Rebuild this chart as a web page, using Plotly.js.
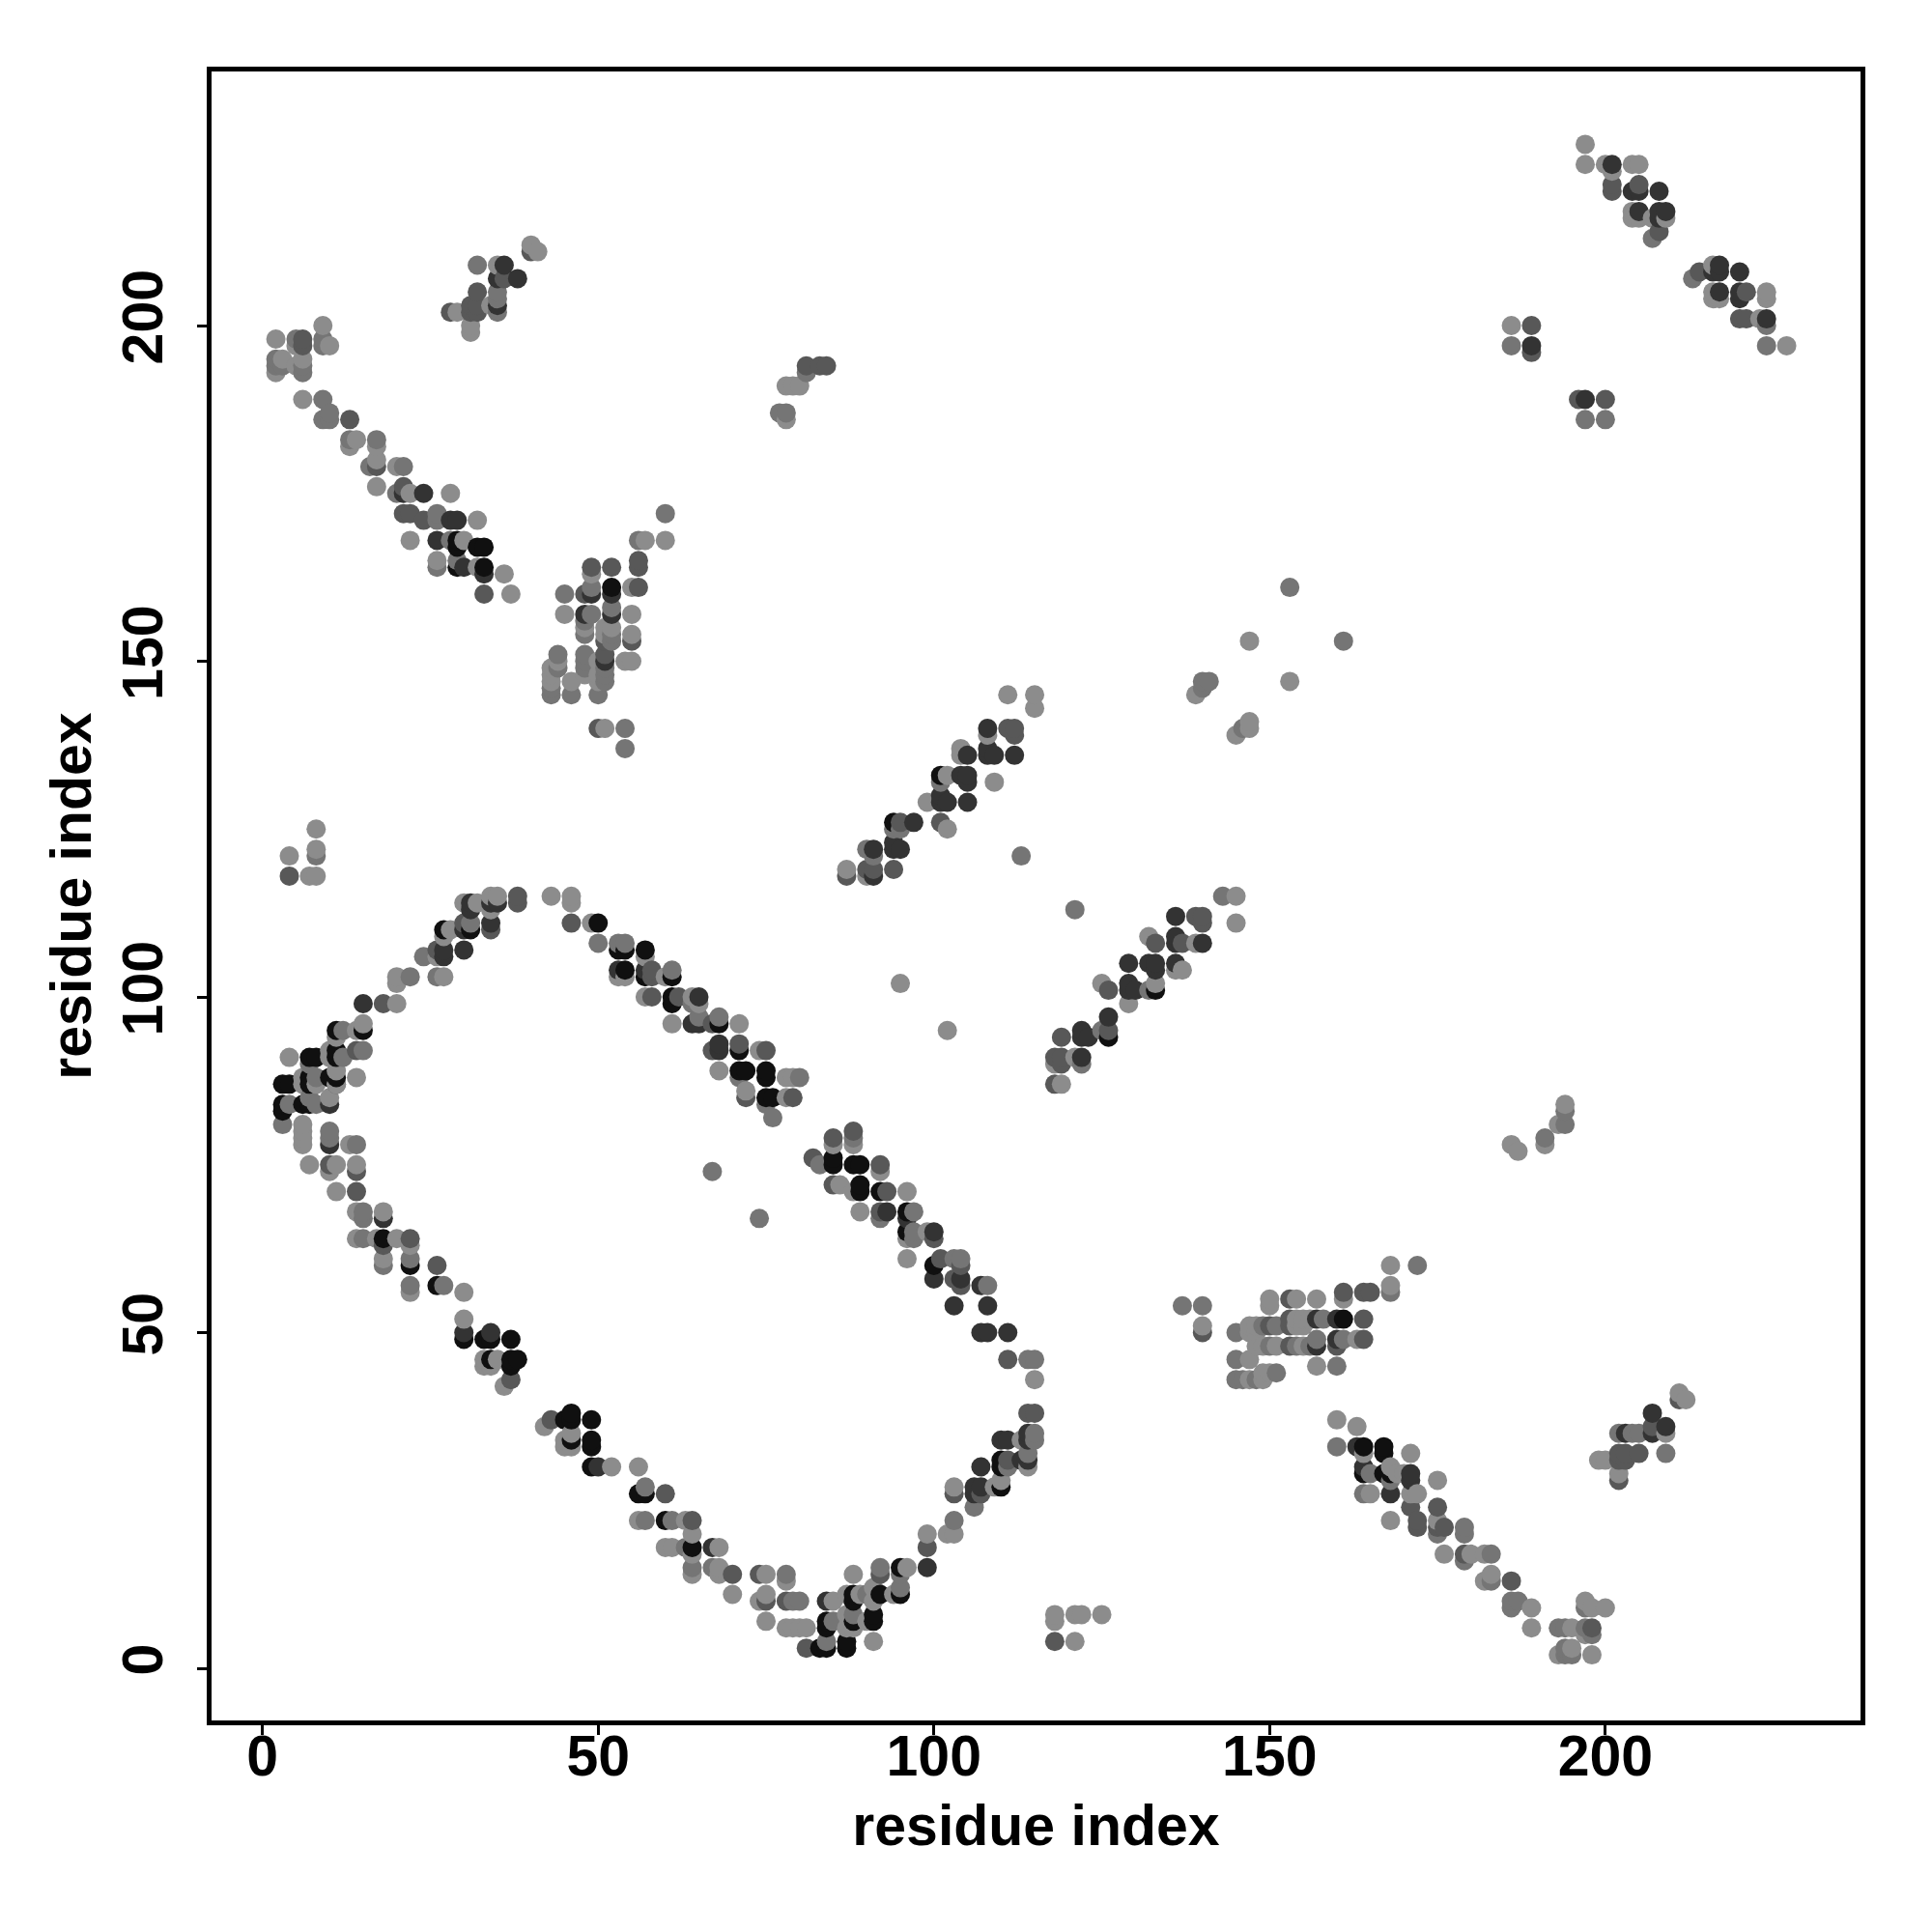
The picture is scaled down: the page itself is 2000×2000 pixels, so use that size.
<!DOCTYPE html>
<html>
<head>
<meta charset="utf-8">
<script src="https://cdn.plot.ly/plotly-3.0.1.min.js"></script>
<style>html,body{margin:0;padding:0;background:#fff}</style>
</head>
<body>
<div id="chart" style="width:2000px;height:2000px"></div>
<script>
const tickValues = [0, 50, 100, 150, 200];
const axisLabel = "residue index";

// contacts as [residue x, residue y], by gray level
const contactsBlack = [
[50,111],[54,107],[54,104],[31,110],[27,110],[15,95],[11,95],[11,92],[11,91],[7,91],[8,91],[11,88],[10,88],[7,88],[3,87],[4,87],[7,87],[7,84],[6,84],[3,84],[3,83],
[18,64],[22,60],[26,57],[30,49],[33,49],[34,49],[37,49],[34,46],[37,46],[37,45],[38,46],[46,38],[45,37],[46,37],[49,37],[46,34],[49,34],[49,33],[49,30],[56,26],
[57,26],[60,22],[64,18],[83,3],[84,3],[87,4],[87,3],[84,7],[84,6],[88,7],[88,11],[88,10],[92,11],[95,11],[91,8],[91,7],[95,15],[110,27],[110,31],[110,30],
[53,107],[57,107],[57,103],[61,103],[61,100],[61,99],[68,96],[71,92],[71,89],[72,89],[75,89],[75,88],[75,85],[76,85],[85,76],[85,75],[88,75],[89,75],[89,72],[89,71],[92,71],[96,68],[96,65],[100,60],
[29,168],[29,167],[32,167],[33,167],[29,164],[33,164],[52,161],[94,126],[101,133],[126,94],[133,101],
[164,33],[167,33],[167,32],[164,29],[167,29],[168,29],[161,52]
];
const contactsDark = [
[34,114],[35,114],[31,114],[31,113],[30,110],[34,111],[27,107],[27,106],[30,107],[15,99],[10,84],[30,50],[34,50],[50,30],[84,10],[99,15],[106,26],[106,27],[107,27],[107,30],[110,34],[111,34],[113,31],[114,31],[114,35],[114,34],[67,18],[18,67],[10,78],
[53,104],[57,104],[65,100],[64,96],[65,96],[68,93],[68,92],[93,68],[96,67],[100,65],[100,58],[104,58],[107,57],[103,54],[108,54],[107,50],[108,50],[111,50],
[21,175],[24,175],[28,171],[29,171],[26,168],[30,164],[33,163],[36,209],[35,207],[38,207],[35,203],
[52,160],[49,160],[48,157],[52,157],[51,150],
[108,140],[105,136],[108,137],[108,136],[109,136],[112,136],[104,133],[105,133],[105,132],[101,130],[101,129],[102,129],[105,129],[97,126],[91,122],[94,123],[94,122],[95,122],[91,118],
[136,112],[136,109],[136,108],[140,108],[129,105],[132,105],[133,105],[133,104],[136,105],[129,102],[129,101],[130,101],[126,97],[122,95],[122,94],[123,94],[122,91],
[163,33],[164,30],[168,26],[171,29],[171,28],[157,52],[160,52],[157,48],[160,49],[203,35],[207,38],[207,35],[209,36],
[201,224],[204,220],[205,220],[208,220],[205,217],[208,217],[208,216],[209,217],[216,208],[217,209],[217,208],[220,208],[217,205],[220,205],[220,204],[224,201],[189,197],[197,189]
];
const contactsDarkMid = [
[4,118],[38,115],[38,114],[46,111],[34,110],[30,111],[26,107],[18,99],[14,92],[11,87],[14,74],[14,71],[10,75],
[22,64],[18,63],[26,60],[37,43],[43,37],[60,26],[64,22],[92,14],[99,18],[107,26],[111,31],[111,46],[81,3],[70,14],[74,14],[75,10],[78,10],[118,4],[103,26],[114,38],[115,38],
[58,104],[58,103],[58,100],[62,100],[67,96],[67,92],[71,93],[75,92],[72,85],[79,85],[82,76],[85,79],[88,80],[92,75],[85,72],[93,71],[92,68],[100,64],[101,61],[104,60],[103,58],[104,57],
[6,198],[6,197],[13,186],[17,179],[21,176],[21,172],[22,172],[24,171],[33,160],[40,211],[31,203],[32,203],[31,202],[32,202],[28,202],[32,205],[36,207],
[49,164],[52,164],[48,160],[56,165],[56,164],[56,161],[51,153],[55,153],[51,151],[50,140],[81,194],[83,194],[84,194],
[111,140],[112,140],[112,139],[101,126],[95,126],[87,118],[90,119],[91,119],[94,119],[118,91],[119,94],[119,91],[119,90],[118,87],[126,95],
[139,112],[140,112],[140,111],[133,108],[137,108],[126,101],
[161,56],[164,56],[165,56],[140,50],[153,55],[153,52],[153,51],[150,51],[164,52],[153,48],[164,49],[160,48],[171,24],[175,24],[172,22],[172,21],[175,21],[176,21],
[179,17],[186,13],[198,6],[211,40],[202,32],[203,32],[202,31],[203,31],[205,32],[202,28],[207,36],
[201,220],[201,221],[205,221],[208,214],[214,208],[221,205],[220,201],[221,201],[189,200],[189,196],[196,189],[200,189]
];
const contactsMid = [
[8,121],[31,111],[50,108],[54,108],[7,90],[8,88],[8,84],[4,84],[7,85],[3,81],[10,80],[10,79],[14,78],[12,95],[12,91],[15,92],[22,103],[24,106],[26,103],[15,68],[15,67],
[15,64],[27,57],[22,61],[22,57],[18,60],[57,27],[57,22],[61,22],[63,18],[64,15],[67,15],[78,14],[79,10],[80,10],[84,4],[85,7],[88,8],[92,15],[95,12],[95,14],[103,22],[106,24],[111,30],[114,32],[115,35],[115,34],[114,46],[115,46],[90,11],
[53,108],[61,104],[64,99],[65,97],[68,97],[71,88],[80,88],[75,84],[76,82],[83,75],[67,74],[74,67],[88,79],[92,67],[97,68],[97,65],[97,64],[103,61],[104,61],[108,57],
[5,198],[9,198],[9,197],[2,195],[2,194],[3,194],[6,194],[6,193],[9,189],[10,187],[9,186],[10,186],[13,183],[17,183],[16,179],[21,179],[20,175],[26,172],[26,171],[28,168],[26,164],[29,165],[32,209],[35,205],[35,204],[35,202],
[49,161],[45,160],[49,157],[52,158],[48,156],[48,154],[52,154],[52,153],[48,151],[48,150],[48,149],[51,149],[51,148],[51,147],[50,145],[44,151],[44,149],[43,146],[43,145],[46,145],[54,140],[54,137],[56,168],[60,172],[81,193],[77,187],[78,187],
[90,122],[91,121],[94,125],[95,125],[101,132],[113,121],[121,113],[143,115],[122,90],[125,95],[132,101],[140,146],[140,147],[141,147],[146,140],[153,161],[161,153],
[168,56],[172,60],[137,54],[140,54],[149,51],[151,51],[145,50],[158,52],[157,49],[161,49],[150,48],[154,48],[156,48],[145,46],[160,45],[145,43],[146,43],[148,43],[151,44],
[160,33],[165,29],[168,28],[164,26],[175,20],[179,21],[179,20],[183,17],[179,16],[183,13],[186,10],[187,10],[186,9],[193,6],[194,6],[197,6],[198,5],[194,2],[195,2],[194,3],[197,9],
[202,35],[204,35],[205,35],[209,32],[207,213],[213,207],[224,200],[224,197],[186,197],[197,186],[200,186],[194,83],[194,81],[191,79]
];
const contactsLight = [
[8,125],[4,121],[8,122],[7,118],[8,118],[35,115],[34,115],[34,113],[30,114],[32,114],[43,115],[46,115],[46,114],[49,111],[54,103],[28,110],[27,109],[26,106],[20,103],[20,102],[27,103],[20,99],[15,96],[14,95],[11,94],[10,92],[10,91],[4,91],[11,89],[14,88],[6,88],[6,87],[8,87],[11,87],[10,85],[6,81],[6,80],[6,79],[6,78],[13,78],[7,75],[11,75],[10,74],[14,75],[11,71],[14,68],[18,68],
[14,64],[17,64],[20,64],[22,63],[18,61],[22,56],[30,56],[30,52],[33,46],[33,45],[35,46],[34,45],[36,42],[42,36],[46,35],[45,34],[45,33],[46,33],[52,30],[56,30],[56,22],[63,22],[64,20],[64,17],[60,18],[61,18],[68,18],[64,14],[68,15],[68,14],[75,14],[78,13],[70,11],[74,10],[75,11],[75,7],[78,6],[79,6],[80,6],[81,6],[91,4],[87,8],[87,6],[88,6],[85,10],[87,11],[89,11],[91,12],[91,10],[94,11],[90,7],[88,14],[96,15],[99,20],[102,20],[103,20],[103,27],[109,27],[110,28],[114,30],[113,34],[115,43],[118,8],[118,7],[121,8],[122,8],[125,8],[121,4],
[53,103],[57,106],[57,100],[60,103],[64,100],[65,99],[61,96],[71,96],[74,92],[68,89],[78,88],[79,88],[72,86],[78,85],[85,78],[88,78],[92,74],[86,72],[88,71],[96,71],[89,68],[95,102],[102,95],[99,65],[96,64],[96,61],
[2,198],[5,197],[9,200],[10,197],[3,195],[2,193],[5,194],[6,195],[6,189],[14,183],[13,182],[17,182],[17,180],[17,176],[20,179],[22,175],[28,175],[32,171],[22,168],[30,168],[26,165],[32,164],[36,163],[37,160],[35,209],[29,202],[34,203],[31,200],[31,199],[40,212],[41,211],
[60,168],[57,168],[55,161],[49,163],[45,157],[55,157],[48,155],[51,155],[52,155],[51,154],[55,154],[50,150],[54,150],[55,150],[48,148],[50,148],[50,147],[44,150],[43,149],[43,148],[43,147],[46,147],[51,140],[78,191],[79,191],[80,191],[78,186],
[111,145],[115,145],[115,143],[108,139],[104,137],[104,136],[102,133],[109,132],[99,129],[102,125],[87,119],[90,118],[145,115],[145,111],[132,109],[139,108],[136,104],[137,104],[125,102],[133,102],[129,99],[118,90],[121,91],[119,87],[139,145],[145,139],[147,141],[147,140],[147,153],[153,147],
[168,60],[168,57],[161,55],[150,55],[150,54],[154,55],[157,55],[140,51],[147,51],[148,51],[147,50],[148,50],[154,52],[155,52],[154,51],[155,51],[156,52],[148,48],[149,48],[151,48],[155,48],[163,49],[147,46],[157,45],[147,43],[149,43],[150,44],[149,44],
[160,37],[163,36],[164,32],[171,32],[168,30],[169,29],[170,29],[175,28],[165,26],[171,26],[172,26],[168,22],[175,22],[176,17],[180,17],[182,17],[182,13],[183,14],[189,9],[189,6],[195,6],[197,5],[193,2],[195,3],[198,2],[197,10],[198,9],[200,9],
[199,31],[200,31],[202,29],[209,35],[211,41],[212,40],
[197,227],[197,224],[200,224],[201,223],[204,224],[205,224],[204,217],[204,216],[205,216],[209,216],[207,216],[216,209],[216,205],[216,204],[217,204],[223,201],[224,205],[224,204],[227,197],[186,200],
[186,78],[187,77],[191,78],[193,81],[194,84]
];

const grayLevels = [
  [contactsBlack, "#101010"],
  [contactsDark, "#333333"],
  [contactsDarkMid, "#585858"],
  [contactsMid, "#757575"],
  [contactsLight, "#8c8c8c"]
];
const points = [];
grayLevels.forEach(([list, color]) => list.forEach(([x, y]) => points.push({x, y, color})));
// the original draws in residue order: later x on top, then higher y on top
points.sort((a, b) => a.x - b.x || a.y - b.y);

const axisBase = {
  tickmode: "array",
  tickvals: tickValues,
  ticktext: tickValues.map(String),
  ticks: "outside",
  ticklen: 10,
  tickwidth: 3,
  tickcolor: "#000",
  showgrid: false,
  zeroline: false,
  showline: true,
  mirror: true,
  linecolor: "#000",
  linewidth: 5,
  tickfont: {family: "Liberation Sans", size: 59, color: "#000", weight: "bold"}
};
const titleFont = {family: "Liberation Sans", size: 59, color: "#000", weight: "bold"};

Plotly.newPlot("chart", [{
  type: "scatter",
  mode: "markers",
  x: points.map(p => p.x),
  y: points.map(p => p.y),
  marker: {size: 20, color: points.map(p => p.color), line: {width: 0}, opacity: 1},
  hoverinfo: "x+y"
}], {
  width: 2000,
  height: 2000,
  paper_bgcolor: "#fff",
  plot_bgcolor: "#fff",
  showlegend: false,
  margin: {l: 219, r: 74, t: 74, b: 219, pad: 0},
  xaxis: Object.assign({}, axisBase, {
    range: [-7.58, 238.0],
    ticklabelstandoff: -29,
    title: {text: "<b>" + axisLabel + "</b>", font: titleFont, standoff: 20}
  }),
  yaxis: Object.assign({}, axisBase, {
    range: [-7.77, 237.85],
    tickangle: -90,
    ticklabelstandoff: 12,
    title: {text: "<b>" + axisLabel + "</b>", font: titleFont, standoff: 3}
  })
}, {displayModeBar: false, staticPlot: true});
</script>
</body>
</html>
